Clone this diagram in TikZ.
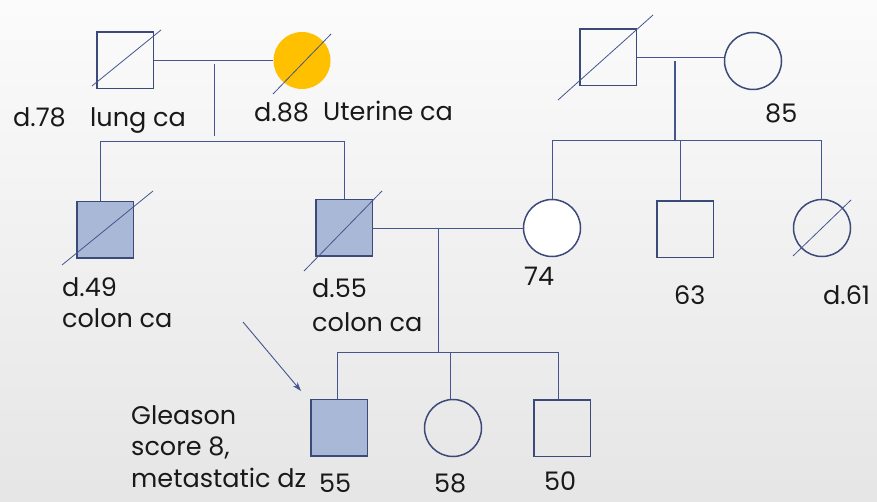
\documentclass[tikz,border=0pt]{standalone}
\usepackage{fontspec}
\setmainfont{Poppins}
\usetikzlibrary{calc,arrows.meta}
\definecolor{pedline}{HTML}{44558F}
\definecolor{pededge}{HTML}{3B4A78}
\definecolor{affected}{HTML}{AAB8D8}
\definecolor{uterine}{HTML}{FFC000}
\tikzset{
	male/.style={draw=pededge, line width=1.5pt, rectangle, minimum size=56.5pt, inner sep=0pt},
	female/.style={draw=pededge, line width=1.5pt, circle, minimum size=57pt, inner sep=0pt},
	aff/.style={fill=affected},
	rel/.style={draw=pedline, line width=0.9pt},
	slash/.style={draw=pedline, line width=0.8pt},
	lbl/.style={anchor=base west, inner sep=0pt, font=\fontsize{25.5}{32}\selectfont, text=black!90}
}
\begin{document}
\begin{tikzpicture}[x=1pt, y=-1pt]
	\shade[top color=white!97!gray, bottom color=black!10!white] (0,0) rectangle (877,502);
	\useasboundingbox (0,0) rectangle (877,502);
	
	% grandparents
	\node[male] (gfL) at (125,60.5) {};
	\node[female, draw=none, fill=uterine] (gmL) at (302,60.5) {};
	\node[male] (gfR) at (608,57.5) {};
	\node[female] (gmR) at (753,61) {};
	
	% parents and siblings
	\node[male, aff] (u49) at (105,230) {};
	\node[male, aff] (f55) at (344,228) {};
	\node[female, fill=white] (m74) at (552,228) {};
	\node[male] (u63) at (685,229.5) {};
	\node[female] (a61) at (822,228) {};
	
	% children
	\node[male, aff] (p55) at (339,427.5) {};
	\node[female] (s58) at (453,428) {};
	\node[male] (b50) at (562,428) {};
	
	\coordinate (dLtop) at (214,64);
	\coordinate (dLend) at (214,136);
	\coordinate (sibLw) at (100,141);
	\coordinate (sibLe) at (344,141);
	\coordinate (dRtop) at (675,61);
	\coordinate (sibR) at (675,140);
	\coordinate (sibRw) at (552,140);
	\coordinate (sibRe) at (821,140);
	\coordinate (sib63) at (680,140);
	\coordinate (dC) at (438,228);
	\coordinate (sibC) at (438,352);
	\coordinate (sibCw) at (337,352);
	\coordinate (sibCe) at (558,352);
	\coordinate (sib58) at (450,352);
	\coordinate (arrowtail) at (243,322);
	\coordinate (arrowtip) at (301,391);
	
	\draw[rel] (gfL.east) -- (gmL.west);
	\draw[rel] (dLtop) -- (dLend);
	\draw[rel] (sibLw |- u49.north) -- (sibLw) -- (sibLe) -- (f55.north);
	
	\draw[rel] (gfR.east) -- (gfR.east -| gmR.west);
	\draw[rel, line width=1.8pt] (dRtop) -- (sibR);
	\draw[rel] (m74.north) -- (sibRw) -- (sibRe) -- (sibRe |- a61.north);
	\draw[rel] (sib63) -- (sib63 |- u63.north);
	
	\draw[rel] (f55.east) -- (m74.west);
	\draw[rel] (dC) -- (sibC);
	\draw[rel] (sibCw |- p55.north) -- (sibCw) -- (sibCe) -- (sibCe |- b50.north);
	\draw[rel] (sib58) -- (sib58 |- s58.north);
	
	% deceased
	\draw[slash] ($(gfL)+(-33,25.5)$) -- ($(gfL)+(36,-30.5)$);
	\draw[slash] ($(gmL)+(-29,33.5)$) -- ($(gmL)+(29,-26.5)$);
	\draw[slash] ($(gfR)+(-50,42.5)$) -- ($(gfR)+(45,-42.5)$);
	\draw[slash] ($(u49)+(-43,35)$) -- ($(u49)+(48,-39)$);
	\draw[slash] ($(f55)+(-40,43)$) -- ($(f55)+(38,-37)$);
	\draw[slash] ($(a61)+(-29,28)$) -- ($(a61)+(29,-28)$);
	
	\draw[rel, -{Stealth[length=9pt, width=6pt]}] (arrowtail) -- (arrowtip);
	
	\node[lbl] (l78) at (13,127) {d.78};
	\node[lbl] (llung) at (90,127) {lung ca};
	\node[lbl] (l88) at (254,122) {d.88};
	\node[lbl] (luter) at (323,121) {Uterine ca};
	\node[lbl] (l85) at (765,123) {85};
	\node[lbl] (l49a) at (62,297) {d.49};
	\node[lbl] (l49b) at (62,327) {colon ca};
	\node[lbl] (l55a) at (312,298) {d.55};
	\node[lbl] (l55b) at (312,331) {colon ca};
	\node[lbl] (l74) at (524,286) {74};
	\node[lbl] (l63) at (674,305) {63};
	\node[lbl] (l61) at (823,305) {d.61};
	\node[lbl] (lg1) at (131,424) {Gleason};
	\node[lbl] (lg2) at (131,455.5) {score 8,};
	\node[lbl] (lg3) at (131,487) {metastatic dz};
	\node[lbl] (lp55) at (319,492) {55};
	\node[lbl] (l58) at (434,492) {58};
	\node[lbl] (l50) at (544,490) {50};
\end{tikzpicture}
\end{document}
